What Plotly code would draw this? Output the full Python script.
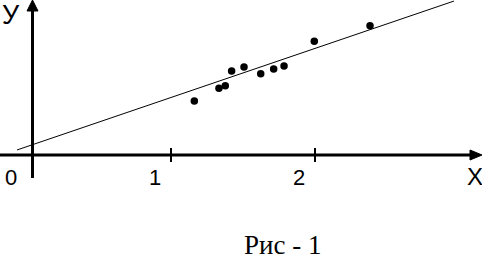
import plotly.graph_objects as go

# data
x_pts = [1.162, 1.333, 1.377, 1.421, 1.507, 1.623, 1.713, 1.785, 1.995, 2.382]
y_pts = [0.375, 0.463, 0.481, 0.583, 0.611, 0.565, 0.597, 0.618, 0.790, 0.898]
line_x = [-0.069, 2.965]
line_y = [0.035, 1.069]
tick_vals = [0, 1, 2]
tick_labels = ["0", "1", "2"]
x_label = "X"
y_label = "У"
caption = "Рис - 1"

W, H = 482, 261
x0px, y0px, scale = 27, 155, 144
xr = [-x0px / scale, (W - x0px) / scale]
yr = [(y0px - H) / scale, y0px / scale]

def dx(px):
    return (px - x0px) / scale

def dy(py):
    return (y0px - py) / scale

fig = go.Figure()
fig.add_trace(go.Scatter(x=line_x, y=line_y, mode="lines",
                         line=dict(color="black", width=1), hoverinfo="skip"))
fig.add_trace(go.Scatter(x=x_pts, y=y_pts, mode="markers",
                         marker=dict(color="black", size=7.5), hoverinfo="skip"))

shapes = []
# x axis
shapes.append(dict(type="line", xref="x", yref="y", x0=dx(0), x1=dx(472), y0=0, y1=0,
                   line=dict(color="black", width=3)))
shapes.append(dict(type="path", xref="x", yref="y",
                   path=f"M {dx(470)} {dy(150)} L {dx(482)} {dy(155)} L {dx(470)} {dy(160)} Z",
                   fillcolor="black", line=dict(color="black", width=1)))
# y axis
yax = dx(32.5)
shapes.append(dict(type="line", xref="x", yref="y", x0=yax, x1=yax, y0=dy(178), y1=dy(9),
                   line=dict(color="black", width=3)))
shapes.append(dict(type="path", xref="x", yref="y",
                   path=f"M {dx(27)} {dy(11)} L {yax} {dy(0)} L {dx(38)} {dy(11)} Z",
                   fillcolor="black", line=dict(color="black", width=1)))
# ticks
for t in tick_vals[1:]:
    shapes.append(dict(type="line", xref="x", yref="y", x0=t, x1=t, y0=dy(148), y1=dy(162),
                       line=dict(color="black", width=2)))

annotations = []
for t, lab in zip(tick_vals, tick_labels):
    annotations.append(dict(x=t, y=dy(177), xref="x", yref="y", text=lab, showarrow=False,
                            xshift=-16, font=dict(family="Liberation Sans", size=22, color="black")))
annotations.append(dict(x=dx(475), y=dy(176), xref="x", yref="y", text=x_label, showarrow=False,
                        font=dict(family="Liberation Sans", size=24, color="black")))
annotations.append(dict(x=dx(11), y=dy(15), xref="x", yref="y", text=y_label, showarrow=False,
                        font=dict(family="Liberation Sans", size=27, color="black")))
annotations.append(dict(x=dx(282), y=dy(245), xref="x", yref="y", text=caption, showarrow=False,
                        font=dict(family="Liberation Serif", size=27, color="black")))

fig.update_layout(
    width=W, height=H, margin=dict(l=0, r=0, t=0, b=0),
    paper_bgcolor="white", plot_bgcolor="white", showlegend=False,
    xaxis=dict(range=xr, visible=False, fixedrange=True),
    yaxis=dict(range=yr, visible=False, fixedrange=True),
    shapes=shapes, annotations=annotations,
)
fig.write_html("out.html", config={"displayModeBar": False},
               post_script="document.body.style.margin='0';document.body.style.overflow='hidden';")
